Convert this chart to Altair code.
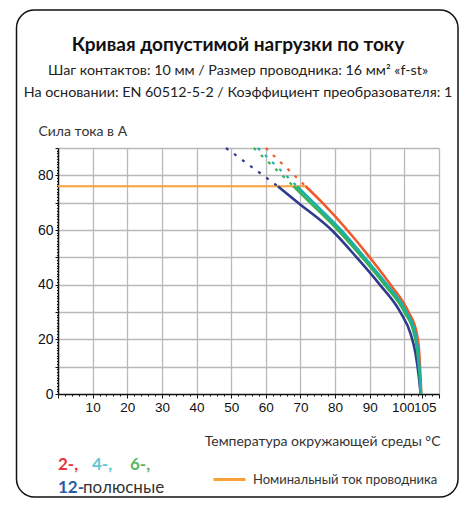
import altair as alt
import pandas as pd

# ---------------- data ----------------
series_names = ["12", "2", "6", "4"]          # drawing order (teal on top)
series_colors = {"2": "#F05A28", "4": "#1BAFA8", "6": "#35B34F", "12": "#2E3A8C"}

curr_levels = [76, 70, 60, 50, 40, 30, 22, 15, 5, 0]
temp_2 = [71.5, 76.3, 83.5, 90.0, 96.0, 101.2, 103.6, 104.3, 104.7, 104.9]
temp_4 = [69.0, 73.8, 81.7, 88.5, 95.0, 100.6, 103.2, 104.0, 104.6, 104.8]
temp_6 = [68.0, 72.8, 80.8, 87.8, 94.3, 100.0, 102.8, 103.8, 104.5, 104.8]
temp_12 = [63.5, 69.3, 79.0, 86.2, 92.9, 98.8, 101.8, 103.2, 104.3, 104.7]

ext_curr = [90, 76]
ext_temp_2 = [60.0, 71.5]
ext_temp_4 = [57.7, 69.0]
ext_temp_6 = [56.5, 68.0]
ext_temp_12 = [48.5, 63.5]

rated_temp = [0, 72]
rated_curr = [76, 76]
rated_label = "Номинальный ток проводника"

title_text = "Кривая допустимой нагрузки по току"
subtitle_1 = "Шаг контактов: 10 мм / Размер проводника: 16 мм² «f-st»"
subtitle_2 = "На основании: EN 60512-5-2 / Коэффициент преобразователя: 1"
y_title = "Сила тока в А"
x_title = "Температура окружающей среды °C"

x_tick_values = list(range(0, 111, 2)) + [105]
y_tick_values = list(range(0, 91, 1))

# ---------------- tables ----------------
temps = {"2": temp_2, "4": temp_4, "6": temp_6, "12": temp_12}
exts = {"2": ext_temp_2, "4": ext_temp_4, "6": ext_temp_6, "12": ext_temp_12}

rows = []
for s in series_names:
    for i, (t, c) in enumerate(zip(temps[s], curr_levels)):
        rows.append({"series": s, "temp": t, "curr": c, "idx": i})
curves = pd.DataFrame(rows)

erows = []
for s in series_names:
    for i, (t, c) in enumerate(zip(exts[s], ext_curr)):
        erows.append({"series": s, "temp": t, "curr": c, "idx": i})
ext_df = pd.DataFrame(erows)

rated_df = pd.DataFrame({"temp": rated_temp, "curr": rated_curr, "name": [rated_label] * 2})

FONT = "Lato"
NUM_FONT = "Liberation Sans Narrow, Liberation Sans, Arial"

x_scale = alt.Scale(domain=[0, 110], nice=False, zero=False)
y_scale = alt.Scale(domain=[0, 90], nice=False)
color_scale = alt.Scale(domain=["2", "4", "6", "12"],
                        range=[series_colors["2"], series_colors["4"], series_colors["6"], series_colors["12"]])

x_axis = alt.Axis(
    values=x_tick_values, tickCount=1000, format="d",
    labelExpr="((datum.value % 10 === 0 && datum.value > 0 && datum.value <= 100) || datum.value === 105) ? datum.label : ''",
    labelOverlap=False, labelBound=False, labelFlush=False,
    labelFont=NUM_FONT, labelFontSize=13.5, labelColor="#111", labelPadding=2,
    labelOffset={"condition": [{"test": "datum.value === 105", "value": 3},
                               {"test": "datum.value === 100", "value": -1.5}], "value": 0},
    tickColor="#111", tickWidth=1,
    tickSize={"condition": {"test": "datum.value % 10 === 0 || datum.value === 105", "value": 4}, "value": 2},
    grid=True, gridColor="#b9b9b9", gridWidth=1.3,
    gridOpacity={"condition": {"test": "datum.value % 10 === 0 && datum.value > 0", "value": 1}, "value": 0},
    domainColor="#111", domainWidth=1.5,
    title=x_title, titleFont=FONT, titleFontSize=14, titleFontWeight="normal", titleColor="#333",
    titleAlign="right", titleBaseline="alphabetic", titleX=382, titleY=51, titleAngle=0,
)
y_axis = alt.Axis(
    values=y_tick_values, tickCount=1000, format="d",
    labelExpr="datum.value % 20 === 0 ? datum.label : ''",
    labelOverlap=False, labelBound=False, labelFlush=False,
    labelFont=NUM_FONT, labelFontSize=14, labelColor="#111", labelPadding=2,
    tickColor="#111", tickWidth=1,
    tickSize={"condition": {"test": "datum.value % 10 === 0", "value": 3}, "value": 1.5},
    grid=True, gridColor="#b9b9b9", gridWidth=1.3,
    gridOpacity={"condition": {"test": "datum.value % 10 === 0 && datum.value > 0", "value": 1}, "value": 0},
    domainColor="#111", domainWidth=1.5,
    title=y_title, titleFont=FONT, titleFontSize=14, titleFontWeight="normal", titleColor="#333",
    titleAlign="left", titleBaseline="alphabetic", titleX=-20, titleY=-13, titleAngle=0,
)

# ---------------- layers ----------------
rated = alt.Chart(rated_df).mark_line(strokeWidth=2).encode(
    x=alt.X("temp:Q", scale=x_scale, axis=x_axis),
    y=alt.Y("curr:Q", scale=y_scale, axis=y_axis),
    stroke=alt.Stroke("name:N", scale=alt.Scale(range=["#F7A136"]),
                      legend=alt.Legend(orient="none", legendX=154, legendY=314, title=None,
                                        symbolType="stroke", symbolSize=1024, symbolStrokeWidth=3,
                                        labelFont=FONT, labelFontSize=13, labelColor="#333",
                                        labelOffset=6, labelLimit=0, padding=0)),
)

layers = [rated]
for s in series_names:
    layers.append(
        alt.Chart(ext_df).transform_filter(alt.datum.series == s).mark_line(
            strokeWidth=2.2, strokeDash=[3, 7]).encode(
            x=alt.X("temp:Q", scale=x_scale),
            y=alt.Y("curr:Q", scale=y_scale),
            color=alt.Color("series:N", scale=color_scale, legend=None),
            order="idx:Q",
        )
    )
for s in series_names:
    layers.append(
        alt.Chart(curves).transform_filter(alt.datum.series == s).mark_line(
            strokeWidth=2.6, interpolate="monotone").encode(
            x=alt.X("temp:Q", scale=x_scale),
            y=alt.Y("curr:Q", scale=y_scale),
            color=alt.Color("series:N", scale=color_scale, legend=None),
            order="idx:Q",
        )
    )

one = pd.DataFrame({"a": [0]})

def label(text, x, y, size, color, weight="normal", align="left", font=FONT):
    return alt.Chart(one).mark_text(
        text=text, font=font, fontSize=size, fontWeight=weight, color=color,
        align=align, baseline="alphabetic").encode(x=alt.value(x), y=alt.value(y))

frame = alt.Chart(one).mark_rect(
    fill=None, fillOpacity=0, stroke="#111", strokeWidth=1.5, cornerRadius=18).encode(
    x=alt.value(-41.5), x2=alt.value(400), y=alt.value(-138), y2=alt.value(349))

layers += [
    frame,
    label(title_text, 180, -97, 19, "#111", weight="bold", align="center"),
    label(subtitle_1, 180, -73, 14.3, "#222", align="center"),
    label(subtitle_2, 180, -51, 14.3, "#222", align="center"),
    label("2-,", 0, 322, 17, "#E8343A", weight="bold"),
    label("4-,", 34, 322, 17, "#62C6D3", weight="bold"),
    label("6-,", 72, 322, 17, "#5BB85D", weight="bold"),
    label("12-", 0, 345, 17, "#1F5BA6", weight="bold"),
    label("полюсные", 25, 345, 17, "#333"),
]

chart = alt.layer(*layers).properties(
    width=381, height=246,
    autosize=alt.AutoSizeParams(type="none"),
    padding={"left": 50, "top": 140, "right": 20, "bottom": 105},
).configure_view(stroke=None).resolve_scale(color="shared")

chart.save("out.html", embed_options={"renderer": "svg", "actions": False})
